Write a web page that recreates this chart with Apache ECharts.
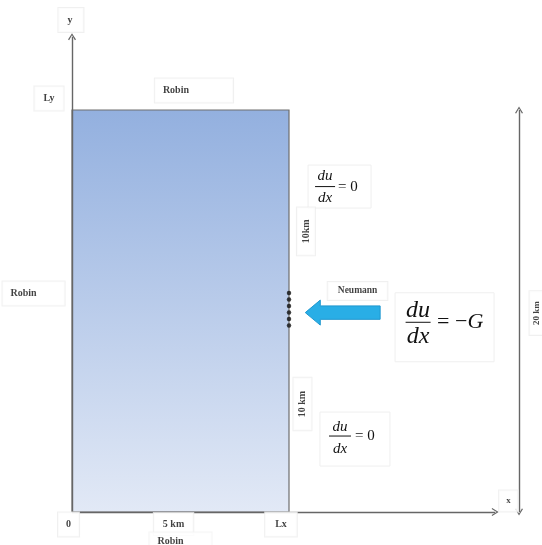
<!DOCTYPE html>
<html><head><meta charset="utf-8">
<script src="https://cdn.jsdelivr.net/npm/echarts@6/dist/echarts.min.js"></script>
<style>html,body{margin:0;padding:0;background:#fff}#c{width:542px;height:545px}</style>
</head><body><div id="c"></div>
<script>
// ---- data (km) ----
const domainX = [0, 10];          // Lx
const domainY = [0, 20];          // Ly
const axisEndX = 19.5;
const axisEndY = 23.65;
const dimX = 20.6;                // 20 km dimension arrow
const neumannX = 10;
const neumannDotsY = [10.9, 10.57, 10.25, 9.93, 9.6, 9.28];
const fluxArrowX = [14.2, 10.75]; // tail, tip
const fluxArrowY = 9.92;
const labelTexts = ['y', 'Ly', 'Robin', 'Robin', '0', '5 km', 'Robin', 'Lx', 'x', '10km', 'Neumann', '10 km', '20 km'];
const fracRhs = ['0', 'G', '0'];

const chart = echarts.init(document.getElementById('c'));
const serif = '"Liberation Serif","DejaVu Serif",serif';
const boxStyle = {backgroundColor:'#fff', borderColor:'#ececec', borderWidth:1};

function txt(text, x, y, opts) {
  return {
    value:[x, y],
    label:Object.assign({
      show:true, position:'inside', formatter:text,
      fontFamily:serif, fontWeight:'bold', fontSize:10, color:'#111',
      padding:[6, 8]
    }, boxStyle, opts || {})
  };
}

const annotations = [
  txt(labelTexts[0], -0.05, 24.48, {padding:[7,11,7,9]}),
  txt(labelTexts[1], -1.06, 20.57, {padding:[7,9]}),
  txt(labelTexts[2], 5.62, 20.97, {padding:[7,44,7,8]}),
  txt(labelTexts[3], -1.77, 10.87, {padding:[7,28,7,8]}),
  txt(labelTexts[4], -0.16, -0.62, {padding:[7,8]}),
  txt(labelTexts[5], 4.68, -0.6, {padding:[6,9]}),
  txt(labelTexts[6], 5.0, -1.47, {padding:[4,28,4,8], borderColor:'#f2f2f2'}),
  txt(labelTexts[7], 9.63, -0.62, {padding:[7,10]}),
  txt(labelTexts[8], 20.11, 0.55, {padding:[6,7], fontSize:9}),
  txt(labelTexts[9], 10.78, 13.96, {rotate:90, padding:[4,12]}),
  txt(labelTexts[10], 13.16, 11.0, {padding:[4,10], fontSize:9.5}),
  txt(labelTexts[11], 10.62, 5.37, {rotate:90, padding:[4,13]}),
  txt(labelTexts[12], 21.43, 9.9, {rotate:90, padding:[3,10], fontSize:9})
];

// fraction boxes: [x, y, sizeKind]
const fracBoxes = [[12.33, 16.19, 0], [17.17, 9.19, 1], [13.04, 3.63, 2]];
const fracSpecs = [
  {w:63, h:43, fs:15, rfs:15, fx:-14.5, by:0, uy:-11, dy:11, bw:20, rx:-1.5},
  {w:99, h:69, fs:24, rfs:22, fx:-26.5, by:-5, uy:-17, dy:9, bw:25, rx:-7.5},
  {w:70, h:54, fs:15, rfs:15, fx:-15, by:-3, uy:-12, dy:10, bw:22, rx:0}
];

const chevron = 'path://M0,10 L5,0 L10,10 L8.6,10.8 L5,3.2 L1.4,10.8 Z';

const option = {
  animation:false,
  grid:{left:72, top:9.5, width:455.7, height:502.5},
  xAxis:{type:'value', min:0, max:21, show:false},
  yAxis:{type:'value', min:0, max:25, show:false},
  series:[
    {
      type:'custom', clip:false, z:1,
      data:[[domainX[0], domainY[0], domainX[1], domainY[1]]],
      renderItem:(p, api) => {
        const a = api.coord([api.value(0), api.value(3)]);
        const b = api.coord([api.value(2), api.value(1)]);
        return {type:'rect', shape:{x:a[0], y:a[1], width:b[0]-a[0], height:b[1]-a[1]},
          style:{fill:new echarts.graphic.LinearGradient(0,0,0,1,[{offset:0,color:'#93b0df'},{offset:1,color:'#e2e9f6'}]),
                 stroke:'#6e6e6e', lineWidth:1.2}};
      }
    },
    {
      type:'line', data:[], z:3,
      markLine:{
        silent:true, symbol:['none', chevron], symbolSize:[8,7],
        label:{show:false},
        lineStyle:{type:'solid', color:'#666', width:1.4},
        data:[
          [{coord:[0,0]},{coord:[axisEndX,0]}],
          [{coord:[0,0]},{coord:[0,axisEndY]}],
          [{coord:[dimX,domainY[0]], symbol:chevron},{coord:[dimX,domainY[1]]}]
        ]
      }
    },
    {
      type:'custom', clip:false, z:4,
      data:[[fluxArrowX[0], fluxArrowY, fluxArrowX[1]]],
      renderItem:(p, api) => {
        const t = api.coord([api.value(0), api.value(1)]);
        const h = api.coord([api.value(2), api.value(1)]);
        const hb = h[0] + 15, y = t[1];
        return {type:'polygon', shape:{points:[[h[0],y],[hb,y-12.5],[hb,y-6.7],[t[0],y-6.7],[t[0],y+6.7],[hb,y+6.7],[hb,y+12.5]]},
          style:{fill:'#29aee6', stroke:'#1f97cf', lineWidth:1}};
      }
    },
    {
      type:'scatter', z:5, symbol:'circle', symbolSize:4.5, clip:false,
      itemStyle:{color:'#111'},
      data:neumannDotsY.map(v => [neumannX, v])
    },
    {
      type:'custom', clip:false, z:6,
      data:fracBoxes,
      renderItem:(p, api) => {
        const c = api.coord([api.value(0), api.value(1)]);
        const s = fracSpecs[api.value(2)];
        const rhs = fracRhs[p.dataIndex];
        const cx = c[0], cy = c[1];
        const fx = cx + s.fx;
        const ital = 'italic ' + s.fs + 'px ' + serif;
        const rich = rhs === 'G'
          ? {text:'= \u2212{g|G}', rich:{g:{fontStyle:'italic', fontSize:s.rfs, fontFamily:serif, fill:'#111'}}}
          : {text:'= ' + rhs};
        return {type:'group', children:[
          {type:'rect', shape:{x:cx - s.w/2, y:cy - s.h/2, width:s.w, height:s.h},
            style:{fill:'#fff', stroke:'#efefef', lineWidth:1}},
          {type:'text', x:fx, y:cy + s.uy, style:{text:'du', font:ital, fill:'#111', align:'center', verticalAlign:'middle'}},
          {type:'text', x:fx, y:cy + s.dy, style:{text:'dx', font:ital, fill:'#111', align:'center', verticalAlign:'middle'}},
          {type:'rect', shape:{x:fx - s.bw/2, y:cy + s.by - 0.5, width:s.bw, height:1}, style:{fill:'#111'}},
          {type:'text', x:cx + s.rx, y:cy + s.by, style:Object.assign({font:s.rfs + 'px ' + serif, fontSize:s.rfs, fontFamily:serif, fill:'#111', align:'left', verticalAlign:'middle'}, rich)}
        ]};
      }
    },
    {
      type:'scatter', z:7, symbolSize:0, clip:false, data:annotations
    }
  ]
};
chart.setOption(option);
</script></body></html>
